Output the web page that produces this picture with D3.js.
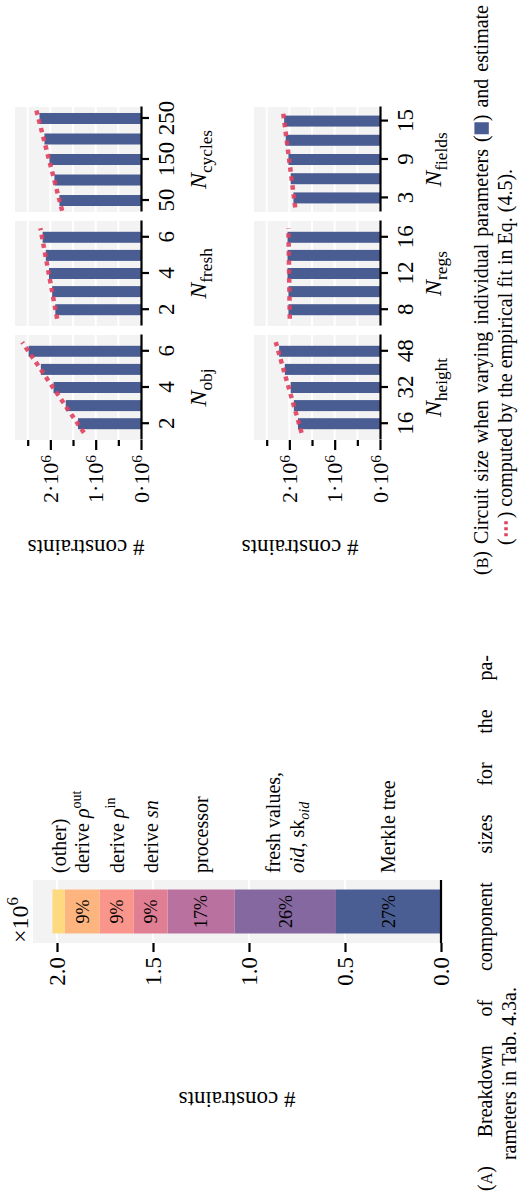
<!DOCTYPE html>
<html><head><meta charset="utf-8">
<script src="https://cdn.jsdelivr.net/npm/d3@7"></script>
<style>
html,body{margin:0;padding:0;background:#fff;}
svg{display:block;}
text{font-family:"Liberation Serif","Times New Roman",serif;fill:#000;white-space:pre;}
</style>
</head><body>
<svg id="c" width="522" height="1197"></svg>
<script>
// ================= DATA =================
// (A) breakdown, values in 10^6 constraints, stacked bottom -> top
const breakdownCategories = ["Merkle tree","fresh values","processor","derive sn","derive rho_in","derive rho_out","(other)"];
const breakdownValues = [0.547, 0.527, 0.350, 0.176, 0.1775, 0.182, 0.064];
const breakdownColors = ["#4a5e93","#8568a0","#b9719f","#e07f93","#f9958a","#fdb47f","#fdd97f"];
const breakdownTicks = [0, 0.5, 1.0, 1.5, 2.0];

// (B) circuit size (10^6) when varying single parameters
const nObjX = [2,3,4,5,6];            const nObjY = [1.39,1.66,1.93,2.21,2.48];
const nObjEstX = [1.5,6.5];           const nObjEstY = [1.26,2.62];
const nFreshX = [2,3,4,5,6];          const nFreshY = [1.89,1.96,2.03,2.10,2.17];
const nFreshEstX = [1.5,6.5];         const nFreshEstY = [1.85,2.22];
const nCyclesX = [50,100,150,200,250];const nCyclesY = [1.80,1.91,2.02,2.13,2.24];
const nCyclesEstX = [25,275];         const nCyclesEstY = [1.74,2.32];
const nHeightX = [16,24,32,40,48];    const nHeightY = [1.81,1.90,1.97,2.10,2.225];
const nHeightEstX = [12,52];          const nHeightEstY = [1.73,2.30];
const nRegsX = [8,10,12,14,16];       const nRegsY = [2.02,2.02,2.04,2.04,2.04];
const nRegsEstX = [7,17];             const nRegsEstY = [1.99,2.02];
const nFieldsX = [3,6,9,12,15];       const nFieldsY = [1.91,1.97,2.02,2.08,2.115];
const nFieldsEstX = [1.5,16.5];       const nFieldsEstY = [1.87,2.14];

const nObjTicks = [2,4,6], nFreshTicks = [2,4,6], nCyclesTicks = [50,150,250];
const nHeightTicks = [16,32,48], nRegsTicks = [8,12,16], nFieldsTicks = [3,9,15];
const sizeMajorTicks = [0,1,2];
const sizeMinorTicks = [0.5,1.5,2.5];

// ================= DRAW =================
const W = 522, H = 1197;
const BLUE = "#4a5d92", RED = "#e0405f", PANEL = "#f3f3f3";
const svg = d3.select("#c");
// whole figure is rotated 90deg counter-clockwise
const root = svg.append("g").attr("transform", `translate(0,${H}) rotate(-90)`);

function richInto(g, parts, size) {
  let cx = 0;
  parts.forEach(p => {
    if (p.sym) { p.draw(g, cx, size); cx += p.w; return; }
    const fs = size * (p.s || 1);
    const t = g.append("text").attr("x", cx).attr("y", (p.dy || 0) * size)
      .attr("font-size", fs).attr("font-style", p.i ? "italic" : "normal").text(p.t);
    cx += t.node().getComputedTextLength();
  });
  return cx;
}
function rich(parent, parts, x, y, size, anchor) {
  const g = parent.append("g");
  const w = richInto(g, parts, size);
  const off = anchor === "middle" ? -w / 2 : anchor === "end" ? -w : 0;
  g.attr("transform", `translate(${x + off},${y})`);
  return w;
}
function textLine(parent, words, x0, y, size, width) {
  const gs = words.map(w => { const g = parent.append("g"); return { g, wd: richInto(g, w, size) }; });
  const total = d3.sum(gs, d => d.wd);
  const gap = width ? (width - total) / (words.length - 1) : size * 0.25;
  let x = x0;
  gs.forEach(d => { d.g.attr("transform", `translate(${x},${y})`); x += d.wd + gap; });
  return gs;
}

// ---------- (A) stacked breakdown ----------
const A = root.append("g");
const aPanel = { u0: 254, u1: 317, v0: 33, v1: 441 };
const yA = d3.scaleLinear().domain([0, 2.125]).range([aPanel.v1, aPanel.v0]);
const xA = d3.scaleBand().domain(["total"]).range([aPanel.u0, aPanel.u1]).paddingInner(0.178).paddingOuter(0.178);

A.append("rect").attr("x", aPanel.u0).attr("y", aPanel.v0)
  .attr("width", aPanel.u1 - aPanel.u0).attr("height", aPanel.v1 - aPanel.v0).attr("fill", PANEL);
A.selectAll("line.grid").data(breakdownTicks.slice(1)).join("line")
  .attr("x1", aPanel.u0).attr("x2", aPanel.u1).attr("y1", d => yA(d)).attr("y2", d => yA(d))
  .attr("stroke", "#fff").attr("stroke-width", 2);

const stackData = [];
let acc = 0;
breakdownValues.forEach((v, i) => { stackData.push({ cat: breakdownCategories[i], y0: acc, y1: acc + v, color: breakdownColors[i] }); acc += v; });
const total = acc;

A.selectAll("rect.seg").data(stackData).join("rect")
  .attr("x", xA("total")).attr("width", xA.bandwidth())
  .attr("y", d => yA(d.y1)).attr("height", d => yA(d.y0) - yA(d.y1)).attr("fill", d => d.color);

const pct = d3.format(".0%");
A.selectAll("text.pct").data(stackData.filter(d => (d.y1 - d.y0) / total > 0.05)).join("text")
  .attr("x", xA("total") + xA.bandwidth() / 2).attr("y", d => yA((d.y0 + d.y1) / 2))
  .attr("dy", "0.35em").attr("text-anchor", "middle").attr("font-size", 18)
  .text(d => pct((d.y1 - d.y0) / total));

// segment labels
const labelParts = {
  "Merkle tree": [[{ t: "Merkle tree" }]],
  "fresh values": [[{ t: "fresh values," }], [{ t: "oid", i: true }, { t: ", sk" }, { t: "oid", i: true, s: 0.7, dy: 0.22 }]],
  "processor": [[{ t: "processor" }]],
  "derive sn": [[{ t: "derive " }, { t: "sn", i: true }]],
  "derive rho_in": [[{ t: "derive " }, { t: "ρ", i: true }, { t: "in", s: 0.7, dy: -0.42 }]],
  "derive rho_out": [[{ t: "derive " }, { t: "ρ", i: true }, { t: "out", s: 0.7, dy: -0.42 }]],
  "(other)": [[{ t: "(other)" }]]
};
const LS = 20;
stackData.forEach(d => {
  const lines = labelParts[d.cat];
  const c = yA((d.y0 + d.y1) / 2);
  const lh = 24;
  lines.forEach((ln, k) => {
    const v = c + (k - (lines.length - 1) / 2) * lh + 0.35 * LS;
    rich(A, ln, aPanel.u1 + 7, v, LS, "start");
  });
});

// y axis (ticks only)
const axA = A.append("g").attr("transform", `translate(${aPanel.u0},0)`)
  .call(d3.axisLeft(yA).tickValues(breakdownTicks).tickFormat(d3.format(".1f")).tickSize(9).tickPadding(5));
axA.select(".domain").remove();
axA.selectAll(".tick line").attr("stroke", "#000").attr("stroke-width", 2.2);
axA.selectAll(".tick text").attr("font-size", 23).attr("font-family", null);
// baseline
A.append("line").attr("x1", aPanel.u0).attr("x2", aPanel.u1).attr("y1", yA(0)).attr("y2", yA(0))
  .attr("stroke", "#000").attr("stroke-width", 2.2);
// scale label
rich(A, [{ t: "×10" }, { t: "6", s: 0.7, dy: -0.42 }], aPanel.u0, 28, 24, "start");
// y label
A.append("text").attr("transform", `translate(105,${(aPanel.v0 + aPanel.v1) / 2}) rotate(-90)`)
  .attr("text-anchor", "middle").attr("font-size", 23).text("# constraints");

// ---------- (B) small multiples ----------
const B = root.append("g");
const colU = [[757, 862], [871, 976], [985, 1090]];
const rowV = [[15, 141], [254, 380]];
const yB = rowV.map(r => d3.scaleLinear().domain([0, 2.78]).range([r[1], r[0]]));
const gridVals = sizeMajorTicks.slice(1).concat(sizeMinorTicks).sort();

const panels = [
  { sub: "obj", xs: nObjX, ys: nObjY, ex: nObjEstX, ey: nObjEstY, ticks: nObjTicks, domain: [1.1, 6.9] },
  { sub: "fresh", xs: nFreshX, ys: nFreshY, ex: nFreshEstX, ey: nFreshEstY, ticks: nFreshTicks, domain: [1.1, 6.9] },
  { sub: "cycles", xs: nCyclesX, ys: nCyclesY, ex: nCyclesEstX, ey: nCyclesEstY, ticks: nCyclesTicks, domain: [22, 278] },
  { sub: "height", xs: nHeightX, ys: nHeightY, ex: nHeightEstX, ey: nHeightEstY, ticks: nHeightTicks, domain: [8.8, 55.2] },
  { sub: "regs", xs: nRegsX, ys: nRegsY, ex: nRegsEstX, ey: nRegsEstY, ticks: nRegsTicks, domain: [6.2, 17.8] },
  { sub: "fields", xs: nFieldsX, ys: nFieldsY, ex: nFieldsEstX, ey: nFieldsEstY, ticks: nFieldsTicks, domain: [0.8, 17.2] }
];
const labelBase = [206, 441];
const yLabelCenter = [86, 300];

panels.forEach((p, i) => {
  const r = Math.floor(i / 3), c = i % 3;
  const x = d3.scaleLinear().domain(p.domain).range(colU[c]);
  const y = yB[r];
  const g = B.append("g");
  g.append("rect").attr("x", colU[c][0]).attr("y", rowV[r][0])
    .attr("width", colU[c][1] - colU[c][0]).attr("height", rowV[r][1] - rowV[r][0]).attr("fill", PANEL);
  g.selectAll("line.grid").data(gridVals).join("line")
    .attr("x1", colU[c][0]).attr("x2", colU[c][1]).attr("y1", d => y(d)).attr("y2", d => y(d))
    .attr("stroke", "#fff").attr("stroke-width", 2);
  g.selectAll("rect.bar").data(d3.zip(p.xs, p.ys)).join("rect")
    .attr("x", d => x(d[0]) - 5.5).attr("width", 11)
    .attr("y", d => y(d[1])).attr("height", d => y(0) - y(d[1])).attr("fill", BLUE);
  g.append("path").attr("d", d3.line().x(d => x(d[0])).y(d => y(d[1]))(d3.zip(p.ex, p.ey)))
    .attr("fill", "none").attr("stroke", RED).attr("stroke-opacity", 0.9)
    .attr("stroke-width", 4.5).attr("stroke-dasharray", "4.5 4.5");
  const ax = g.append("g").attr("transform", `translate(0,${y(0)})`)
    .call(d3.axisBottom(x).tickValues(p.ticks).tickFormat(d3.format("d")).tickSize(8).tickPadding(9).tickSizeOuter(0));
  ax.select(".domain").attr("stroke", "#000").attr("stroke-width", 2.2);
  ax.selectAll(".tick line").attr("stroke", "#000").attr("stroke-width", 2.2);
  ax.selectAll(".tick text").attr("font-size", 23).attr("font-family", null);
  rich(g, [{ t: "N", i: true }, { t: p.sub, s: 0.72, dy: 0.25 }],
    (colU[c][0] + colU[c][1]) / 2, labelBase[r], 24, "middle");

  if (c === 0) {
    const ya = g.append("g").attr("transform", `translate(${colU[0][0]},0)`)
      .call(d3.axisLeft(y).tickValues(sizeMajorTicks).tickSize(10).tickPadding(5).tickFormat(() => ""));
    ya.select(".domain").remove();
    ya.selectAll(".tick line").attr("stroke", "#000").attr("stroke-width", 2.2);
    ya.selectAll(".tick text").attr("font-size", 22).attr("font-family", null).each(function (d) {
      const t = d3.select(this);
      t.append("tspan").text(`${d}·10`);
      t.append("tspan").attr("dy", "-0.45em").attr("font-size", "0.7em").text("6");
    });
    const ym = g.append("g").attr("transform", `translate(${colU[0][0]},0)`)
      .call(d3.axisLeft(y).tickValues(sizeMinorTicks).tickSize(6).tickFormat(() => ""));
    ym.select(".domain").remove();
    ym.selectAll(".tick line").attr("stroke", "#000").attr("stroke-width", 2.2);
    g.append("text").attr("transform", `translate(657,${yLabelCenter[r]}) rotate(-90)`)
      .attr("text-anchor", "middle").attr("font-size", 23).text("# constraints");
  }
});

// ---------- captions ----------
const CS = 20;
const sc = (letter) => [{ t: "(" }, { t: letter, s: 0.8 }, { t: ")" }];
const capA1 = [sc("A"), [{ t: "Breakdown" }], [{ t: "of" }], [{ t: "component" }], [{ t: "sizes" }], [{ t: "for" }], [{ t: "the" }], [{ t: "pa-" }]];
const capA2 = [[{ t: "rameters" }], [{ t: "in" }], [{ t: "Tab." }], [{ t: "4.3a." }]];
const gA1 = textLine(root, capA1, 6, 492, CS, 536);
textLine(root, capA2, 6 + gA1[0].wd + CS * 0.3, 516, CS, null);

const rectSym = { sym: true, w: 14, draw: (g, cx, s) => g.append("rect").attr("x", cx + 1).attr("y", -s * 0.68).attr("width", 12).attr("height", s * 0.72).attr("fill", BLUE) };
const dotSym = { sym: true, w: 20, draw: (g, cx, s) => g.append("line").attr("x1", cx + 2).attr("x2", cx + 18).attr("y1", -s * 0.3).attr("y2", -s * 0.3).attr("stroke", RED).attr("stroke-width", 3.5).attr("stroke-dasharray", "3 3") };
const capB1 = [sc("B"), [{ t: "Circuit" }], [{ t: "size" }], [{ t: "when" }], [{ t: "varying" }], [{ t: "individual" }], [{ t: "parameters" }],
  [{ t: "(" }, rectSym, { t: ")" }], [{ t: "and" }], [{ t: "estimate" }]];
const capB2 = [[{ t: "(" }, dotSym, { t: ")" }], [{ t: "computed" }], [{ t: "by" }], [{ t: "the" }], [{ t: "empirical" }], [{ t: "fit" }], [{ t: "in" }], [{ t: "Eq." }], [{ t: "(4.5)." }]];
const gB1 = textLine(root, capB1, 622, 488, CS, 570);
textLine(root, capB2, 622 + gB1[0].wd + CS * 0.3, 512, CS, null);
</script>
</body></html>
